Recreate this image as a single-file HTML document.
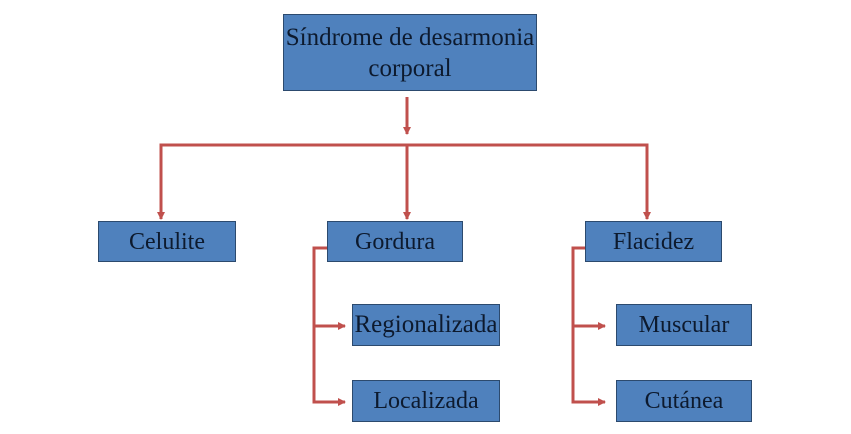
<!DOCTYPE html>
<html><head><meta charset="utf-8"><style>
body{margin:0;background:#fff;width:851px;height:434px;overflow:hidden;position:relative}
.b{position:absolute;background:#4f81bd;border:1.5px solid #2c4a6e;box-sizing:border-box;display:flex;align-items:center;justify-content:center;text-align:center;font-family:"Liberation Serif",serif;color:#0d1a2e;font-size:24px;line-height:26px;white-space:nowrap}
svg{position:absolute;left:0;top:0}
</style></head><body>
<svg width="851" height="434">
<defs><marker id="a" markerWidth="8" markerHeight="8" refX="7" refY="4" orient="auto" markerUnits="userSpaceOnUse"><path d="M0,0 L8,4 L0,8z" fill="#c0504d"/></marker></defs>
<g stroke="#c0504d" stroke-width="3" fill="none">
<line x1="407" y1="97" x2="407" y2="134" marker-end="url(#a)"/>
<polyline points="161,219 161,145 647,145 647,219" marker-end="url(#a)"/>
<line x1="161" y1="145" x2="161" y2="219" marker-end="url(#a)"/>
<line x1="407" y1="145" x2="407" y2="219" marker-end="url(#a)"/>
<polyline points="327,248 314,248 314,402 345,402" marker-end="url(#a)"/>
<line x1="314" y1="326" x2="345" y2="326" marker-end="url(#a)"/>
<polyline points="585,248 573,248 573,402 605,402" marker-end="url(#a)"/>
<line x1="573" y1="326" x2="605" y2="326" marker-end="url(#a)"/>
</g></svg>
<div class="b" style="left:283px;top:14px;width:254px;height:77px;font-size:25px;line-height:31px;white-space:normal">Síndrome de desarmonia<br>corporal</div>
<div class="b" style="left:98px;top:221px;width:138px;height:41px">Celulite</div>
<div class="b" style="left:327px;top:221px;width:136px;height:41px">Gordura</div>
<div class="b" style="left:585px;top:221px;width:137px;height:41px">Flacidez</div>
<div class="b" style="left:352px;top:304px;width:148px;height:42px;font-size:25px">Regionalizada</div>
<div class="b" style="left:352px;top:380px;width:148px;height:42px">Localizada</div>
<div class="b" style="left:616px;top:304px;width:136px;height:42px">Muscular</div>
<div class="b" style="left:616px;top:380px;width:136px;height:42px">Cutánea</div>
</body></html>
